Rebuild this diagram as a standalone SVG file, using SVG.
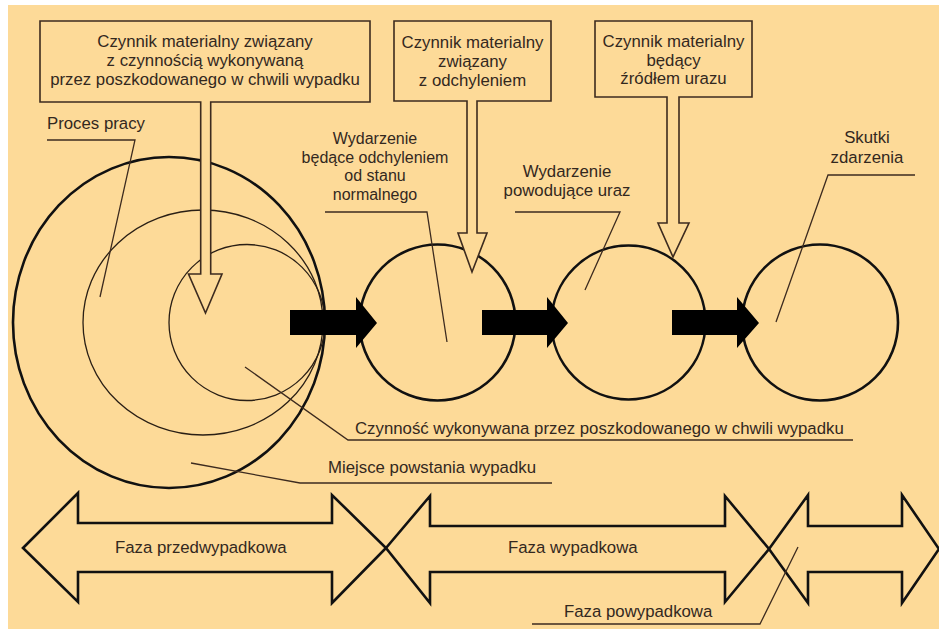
<svg xmlns="http://www.w3.org/2000/svg" width="939" height="629" viewBox="0 0 939 629">
<style>
  .t { font-family: "Liberation Sans", Arial, sans-serif; font-size: 16.8px; fill: #33281e; }
  .s { font-size: 16px; }
  .c { text-anchor: middle; }
  .ring { fill: none; stroke: #111; stroke-width: 2.6; }
  .thin { fill: none; stroke: #2a1f15; stroke-width: 1.3; }
  .callout { fill: #FDDA98; stroke: #3d2b1f; stroke-width: 1.6; stroke-linejoin: miter; }
  .lead { fill: none; stroke: #3d2b1f; stroke-width: 1.3; }
  .phase { fill: none; stroke: #111; stroke-width: 2.6; stroke-linejoin: miter; }
  .blk { fill: #000; }
</style>
<rect x="0" y="0" width="939" height="629" fill="#ffffff"/>
<rect x="8" y="5" width="931" height="624" fill="#FDDA98"/>

<g id="circles">
  <g id="proces-pracy-circle"><ellipse class="ring" cx="169" cy="322.5" rx="156" ry="165.5"/></g>
  <g id="miejsce-circle"><ellipse class="thin" cx="203" cy="322.5" rx="120" ry="112.5"/></g>
  <g id="czynnosc-circle"><circle class="thin" cx="247" cy="322.5" r="78"/></g>
  <g id="odchylenie-circle"><circle class="ring" cx="437.5" cy="322.5" r="78"/></g>
  <g id="uraz-circle"><circle class="ring" cx="628.5" cy="322.5" r="77"/></g>
  <g id="skutki-circle"><circle class="ring" cx="820" cy="322.5" r="78"/></g>
</g>

<g id="connectors">
  <path class="blk" d="M290,310 H356 V297 L377,323 L356,348 V335 H290 Z"/>
  <path class="blk" d="M482,310 H547 V297 L568,323 L547,348 V335 H482 Z"/>
  <path class="blk" d="M672,310 H737 V297 L759,323 L737,348 V335 H672 Z"/>
</g>

<g id="box-czynnik-czynnosc">
  <path class="callout" d="M40,21 H370 V102 H210.7 V274 H222 L205.5,313 L188.5,274 H200.7 V102 H40 Z"/>
  <text class="t c" x="205" y="47">Czynnik materialny związany</text>
  <text class="t c" x="205" y="66">z czynnością wykonywaną</text>
  <text class="t c" x="205" y="85">przez poszkodowanego w chwili wypadku</text>
</g>

<g id="box-czynnik-odchylenie">
  <path class="callout" d="M394,21 H551 V101 H477 V233 H487 L472,272 L458,233 H467 V101 H394 Z"/>
  <text class="t c" x="472.5" y="48">Czynnik materialny</text>
  <text class="t c" x="472.5" y="67">związany</text>
  <text class="t c" x="472.5" y="86">z odchyleniem</text>
</g>

<g id="box-czynnik-uraz">
  <path class="callout" d="M595,21 H752 V97 H679 V223 H689 L673,257 L658,223 H667 V97 H595 Z"/>
  <text class="t c" x="673.5" y="47">Czynnik materialny</text>
  <text class="t c" x="673.5" y="66">będący</text>
  <text class="t c" x="673.5" y="84">źródłem urazu</text>
</g>

<g id="label-proces-pracy">
  <polyline class="lead" points="47,140 135,140 100,297"/>
  <text class="t" x="47" y="129">Proces pracy</text>
</g>

<g id="label-odchylenie">
  <polyline class="lead" points="325,212 427,212 447,342"/>
  <text class="t s c" x="375" y="144">Wydarzenie</text>
  <text class="t s c" x="375" y="162.5">będące odchyleniem</text>
  <text class="t s c" x="375" y="181">od stanu</text>
  <text class="t s c" x="375" y="199.5">normalnego</text>
</g>

<g id="label-uraz">
  <polyline class="lead" points="515,212 620,212 585,290"/>
  <text class="t c" x="567" y="177">Wydarzenie</text>
  <text class="t c" x="567" y="196">powodujące uraz</text>
</g>

<g id="label-skutki">
  <polyline class="lead" points="915,175 828,175 776,322"/>
  <text class="t c" x="867" y="143">Skutki</text>
  <text class="t c" x="867" y="163">zdarzenia</text>
</g>

<g id="label-czynnosc">
  <polyline class="lead" points="853,440 348,440 245,367"/>
  <text class="t" x="355" y="434">Czynność wykonywana przez poszkodowanego w chwili wypadku</text>
</g>

<g id="label-miejsce">
  <polyline class="lead" points="552,483 300,483 191,463"/>
  <text class="t" x="328" y="473">Miejsce powstania wypadku</text>
</g>

<g id="phase-przedwypadkowa">
  <path class="phase" d="M23,548 L78,493 V523 H332 V495 L386,548 L332,603 V572 H78 V602 Z"/>
  <text class="t" x="115" y="553">Faza przedwypadkowa</text>
</g>

<g id="phase-wypadkowa">
  <path class="phase" d="M386,548 L430,496 V526 H725 V496 L769,549 L725,602 V572 H430 V603 Z"/>
  <text class="t" x="508" y="553">Faza wypadkowa</text>
</g>

<g id="phase-powypadkowa">
  <path class="phase" d="M769,549 L808,495 V526 H902 V495 L939,549 L902,603 V572 H808 V603 Z"/>
  <polyline class="lead" points="532,624 760,624 798,547"/>
  <text class="t" x="564" y="617">Faza powypadkowa</text>
</g>
</svg>
